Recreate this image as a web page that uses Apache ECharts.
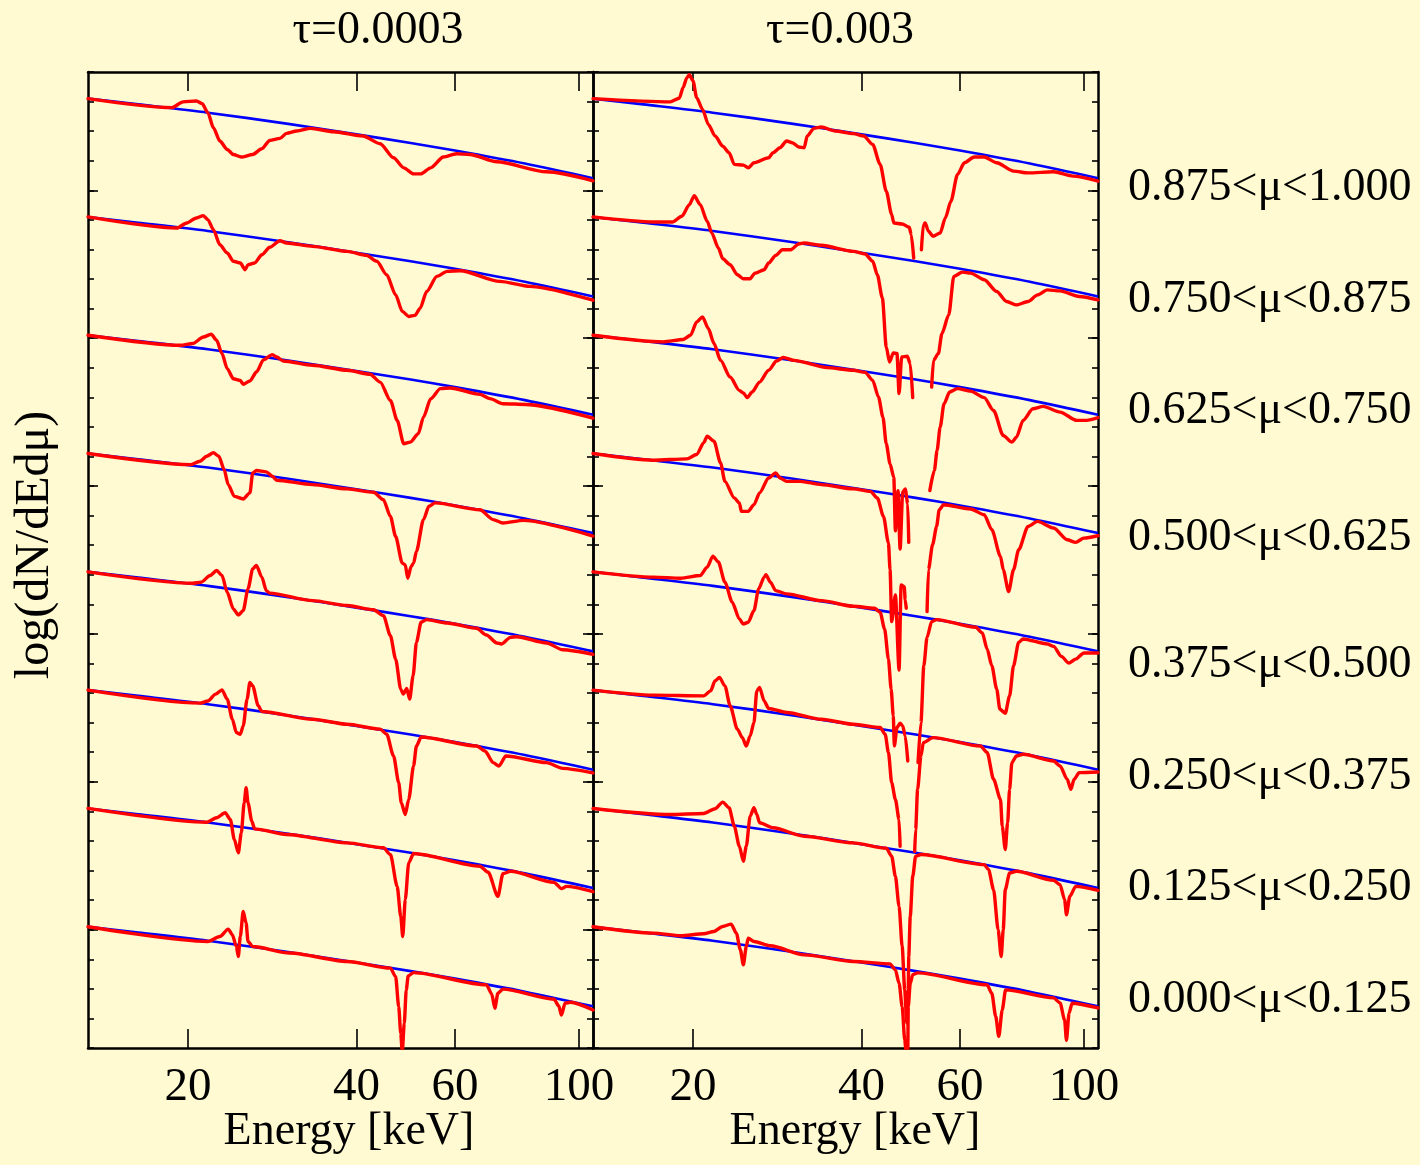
<!DOCTYPE html>
<html>
<head>
<meta charset="utf-8">
<script src="https://cdn.jsdelivr.net/npm/echarts@6/dist/echarts.min.js"></script>
<style>
html,body{margin:0;padding:0;background:#fffad2;}
#chart{width:1420px;height:1165px;}
</style>
</head>
<body>
<div id="chart"></div>
<script>
// ---------------- DATA ----------------
const energyTicks = [20, 40, 60, 100];
const panelTitles = ['τ=0.0003', 'τ=0.003'];
const muBins = ['0.875<μ<1.000', '0.750<μ<0.875', '0.625<μ<0.750', '0.500<μ<0.625',
                '0.375<μ<0.500', '0.250<μ<0.375', '0.125<μ<0.250', '0.000<μ<0.125'];
// vertical offset (log units) applied to each μ bin for display
const curveOffsets = [6.62, 5.82, 5.02, 4.22, 3.42, 2.62, 1.82, 1.02];
// continuum model (blue), log flux relative to value at 13.25 keV
const continuumE = [13.25, 16.3, 21.7, 30.2, 40, 50, 60, 80, 105.9];
const continuumLogFlux = [0, -0.039, -0.095, -0.171, -0.242, -0.300, -0.351, -0.439, -0.538];

// tau = 0.0003 spectra (red), [E keV, log flux relative]
const t1_mu1 = [[13.25,0],[18.7,-0.061],[19.6,-0.022],[20.7,-0.016],[21.2,-0.034],[21.7,-0.095],[22.2,-0.197],[22.8,-0.287],[23.5,-0.344],[24.1,-0.378],[24.9,-0.395],[26.1,-0.378],[27.1,-0.339],[28.0,-0.283],[29.2,-0.269],[30.0,-0.235],[31.3,-0.219],[33.1,-0.201],[36.4,-0.224],[41.1,-0.253],[44.1,-0.305],[46.6,-0.400],[48.6,-0.468],[50.6,-0.509],[52.1,-0.509],[54.3,-0.468],[57.2,-0.395],[60.4,-0.373],[63.8,-0.378],[71.3,-0.427],[87.5,-0.495],[105.9,-0.556]];
const t1_mu2 = [[13.25,0],[19.1,-0.075],[19.9,-0.041],[20.7,-0.007],[21.3,0.009],[21.7,-0.018],[22.2,-0.086],[22.8,-0.188],[23.5,-0.244],[24.1,-0.300],[24.8,-0.312],[25.3,-0.357],[25.6,-0.323],[26.3,-0.312],[27.1,-0.256],[28.0,-0.205],[29.2,-0.161],[30.0,-0.176],[33.4,-0.199],[38.5,-0.233],[41.7,-0.260],[43.5,-0.300],[45.3,-0.391],[47.0,-0.527],[48.3,-0.639],[49.6,-0.673],[50.9,-0.666],[52.0,-0.617],[53.4,-0.504],[55.7,-0.402],[58.1,-0.368],[61.3,-0.364],[72.2,-0.436],[81.7,-0.470],[105.9,-0.563]];
const t1_mu3 = [[13.25,0],[19.4,-0.068],[20.4,-0.056],[21.3,-0.012],[22.0,0.007],[22.5,-0.034],[23.0,-0.124],[23.5,-0.226],[24.1,-0.294],[24.8,-0.305],[25.1,-0.332],[25.8,-0.310],[26.5,-0.249],[27.3,-0.165],[28.3,-0.131],[28.8,-0.147],[29.6,-0.174],[33.4,-0.203],[38.5,-0.237],[42.3,-0.264],[44.1,-0.317],[46.0,-0.441],[47.3,-0.576],[48.6,-0.734],[49.9,-0.723],[51.6,-0.666],[52.7,-0.554],[54.3,-0.429],[56.5,-0.361],[58.8,-0.357],[66.5,-0.400],[69.3,-0.429],[73.1,-0.463],[80.5,-0.468],[105.9,-0.560]];
const t1_mu4 = [[13.25,0],[20.2,-0.075],[21.0,-0.052],[21.6,-0.018],[22.2,0.005],[22.7,-0.018],[23.2,-0.108],[23.6,-0.210],[24.2,-0.290],[25.1,-0.307],[25.8,-0.266],[26.1,-0.131],[26.5,-0.115],[27.6,-0.124],[28.3,-0.154],[28.8,-0.181],[33.4,-0.210],[38.5,-0.239],[42.9,-0.262],[44.7,-0.312],[46.0,-0.425],[47.0,-0.561],[48.3,-0.741],[48.9,-0.753],[49.4,-0.843],[50.1,-0.764],[50.6,-0.741],[51.2,-0.662],[52.7,-0.447],[53.9,-0.357],[55.3,-0.334],[66.5,-0.380],[70.2,-0.447],[73.1,-0.470],[79.6,-0.452],[105.9,-0.558]];
const t1_mu5 = [[13.25,0],[20.4,-0.077],[21.1,-0.070],[21.9,-0.025],[22.5,0.009],[23.0,-0.025],[23.5,-0.138],[24.1,-0.251],[24.6,-0.292],[25.1,-0.262],[25.6,-0.115],[26.1,0.020],[26.5,0.043],[27.1,-0.036],[27.6,-0.127],[28.0,-0.144],[33.4,-0.195],[38.5,-0.228],[42.9,-0.256],[44.7,-0.296],[46.0,-0.432],[47.0,-0.590],[48.0,-0.793],[48.5,-0.827],[49.2,-0.789],[49.8,-0.861],[50.5,-0.703],[51.2,-0.477],[52.2,-0.341],[53.4,-0.323],[58.1,-0.346],[65.6,-0.382],[68.3,-0.427],[71.3,-0.481],[72.6,-0.488],[75.4,-0.443],[77.3,-0.439],[87.5,-0.481],[93.5,-0.527],[105.9,-0.558]];
const t1_mu6 = [[13.25,0],[21.0,-0.088],[21.7,-0.073],[22.4,-0.027],[23.0,0.002],[23.5,-0.061],[24.0,-0.197],[24.4,-0.287],[24.8,-0.298],[25.1,-0.242],[25.5,-0.061],[25.8,0.052],[26.1,0.029],[26.7,-0.106],[27.1,-0.144],[33.4,-0.197],[38.5,-0.231],[44.1,-0.264],[45.3,-0.298],[46.6,-0.445],[47.6,-0.626],[48.1,-0.761],[48.9,-0.841],[49.6,-0.739],[50.6,-0.513],[51.2,-0.378],[52.2,-0.317],[65.6,-0.378],[67.9,-0.412],[70.2,-0.490],[71.9,-0.513],[74.0,-0.445],[87.5,-0.490],[93.5,-0.529],[105.9,-0.560]];
const t1_mu7 = [[13.25,0],[21.6,-0.093],[22.5,-0.063],[23.3,-0.029],[23.8,-0.075],[24.2,-0.210],[24.6,-0.300],[24.9,-0.165],[25.2,0.039],[25.4,0.140],[25.6,0.039],[26.0,-0.086],[26.3,-0.138],[30.0,-0.176],[38.5,-0.233],[44.7,-0.266],[46.0,-0.312],[47.3,-0.527],[48.0,-0.730],[48.4,-0.866],[48.9,-0.617],[49.6,-0.368],[50.6,-0.305],[66.5,-0.391],[68.8,-0.432],[71.6,-0.595],[73.1,-0.441],[75.4,-0.425],[90.2,-0.500],[93.0,-0.542],[95.0,-0.527],[105.9,-0.563]];
const t1_mu8 = [[13.25,0],[21.7,-0.100],[22.8,-0.066],[23.6,-0.016],[24.0,-0.054],[24.4,-0.134],[24.6,-0.201],[24.8,-0.066],[25.1,0.104],[25.4,0.025],[25.6,-0.100],[26.1,-0.134],[30.4,-0.178],[38.5,-0.235],[46.0,-0.280],[47.0,-0.337],[47.6,-0.540],[48.0,-0.721],[48.3,-0.848],[48.7,-0.653],[49.1,-0.427],[49.5,-0.332],[50.6,-0.310],[68.3,-0.393],[69.8,-0.454],[70.7,-0.551],[71.6,-0.450],[73.1,-0.422],[90.2,-0.490],[92.0,-0.536],[93.0,-0.597],[94.4,-0.517],[96.5,-0.511],[105.9,-0.563]];

// tau = 0.003 spectra (red); null marks where the curve is absent
const t2_mu1 = [[13.25,0],[18.2,-0.022],[18.9,0.002],[19.2,0.075],[19.5,0.142],[19.7,0.161],[20.0,0.120],[20.3,0.007],[20.8,-0.073],[21.3,-0.174],[21.9,-0.253],[22.6,-0.321],[23.2,-0.366],[23.7,-0.445],[24.6,-0.450],[25.1,-0.468],[25.7,-0.434],[27.3,-0.400],[27.8,-0.366],[28.6,-0.332],[29.4,-0.287],[30.1,-0.298],[30.9,-0.327],[31.6,-0.332],[32.0,-0.253],[32.9,-0.201],[33.9,-0.192],[35.9,-0.219],[38.7,-0.237],[40.4,-0.253],[41.9,-0.310],[43.2,-0.445],[44.3,-0.626],[45.3,-0.784],[45.7,-0.841],[47.3,-0.848],[48.7,-0.870],[49.1,-0.920],[49.6,-1.078],[50.4,null],[51.2,-1.022],[51.6,-0.852],[52.0,-0.841],[52.7,-0.897],[53.7,-0.931],[55.3,-0.909],[56.5,-0.807],[57.8,-0.694],[59.4,-0.513],[61.1,-0.434],[63.6,-0.395],[66.3,-0.395],[69.8,-0.434],[74.8,-0.490],[79.4,-0.502],[88.2,-0.495],[95.6,-0.524],[105.9,-0.558]];
const t2_mu2 = [[13.25,0],[17.0,-0.034],[18.4,-0.034],[19.1,0.005],[19.7,0.083],[20.1,0.144],[20.6,0.083],[21.2,-0.029],[21.6,-0.108],[22.2,-0.210],[22.6,-0.283],[23.3,-0.323],[24.0,-0.391],[24.6,-0.418],[25.3,-0.418],[25.8,-0.380],[26.8,-0.357],[27.3,-0.312],[28.1,-0.260],[28.9,-0.222],[29.9,-0.222],[30.9,-0.183],[31.6,-0.176],[33.9,-0.192],[38.7,-0.233],[40.6,-0.251],[41.9,-0.300],[42.7,-0.391],[43.6,-0.549],[44.3,-0.879],[44.9,-0.981],[45.6,-0.920],[46.3,-0.924],[46.7,-1.195],[47.2,-0.947],[48.3,-0.942],[48.9,-0.992],[49.4,-1.222],[51.0,null],[53.4,-1.151],[53.8,-0.970],[54.9,-0.924],[55.7,-0.789],[57.3,-0.662],[58.5,-0.402],[60.6,-0.373],[62.7,-0.380],[66.3,-0.425],[69.8,-0.504],[72.7,-0.572],[75.7,-0.595],[79.4,-0.572],[82.6,-0.527],[86.0,-0.493],[90.6,-0.500],[98.0,-0.538],[105.9,-0.561]];
const t2_mu3 = [[13.25,0],[17.7,-0.045],[19.2,-0.029],[19.8,0],[20.3,0.090],[20.8,0.124],[21.3,0.045],[21.8,-0.056],[22.4,-0.170],[23.3,-0.283],[24.2,-0.373],[24.6,-0.391],[25.0,-0.422],[25.5,-0.384],[26.3,-0.317],[27.3,-0.237],[28.2,-0.174],[29.0,-0.151],[30.3,-0.170],[34.7,-0.219],[38.7,-0.237],[40.6,-0.251],[41.9,-0.305],[42.9,-0.418],[43.7,-0.554],[44.3,-0.734],[45.0,-0.870],[45.7,-0.961],[46.0,-1.322],[46.5,-1.051],[46.9,-1.446],[47.4,-1.062],[47.9,-1.039],[48.4,-1.141],[48.6,-1.401],[50.5,null],[53.0,-1.051],[54.0,-0.915],[54.6,-0.780],[55.3,-0.622],[56.2,-0.463],[57.5,-0.384],[59.4,-0.361],[62.7,-0.378],[66.3,-0.422],[68.9,-0.509],[71.7,-0.678],[74.3,-0.723],[75.7,-0.690],[77.8,-0.576],[81.0,-0.497],[84.5,-0.481],[90.6,-0.520],[97.0,-0.576],[101.0,-0.576],[105.9,-0.558]];
const t2_mu4 = [[13.25,0],[17.0,-0.045],[19.5,-0.036],[20.3,-0.007],[20.9,0.073],[21.2,0.117],[21.8,0.083],[22.4,-0.063],[22.8,-0.188],[23.7,-0.300],[24.2,-0.334],[24.4,-0.391],[25.1,-0.391],[25.7,-0.346],[26.3,-0.266],[27.3,-0.165],[28.1,-0.131],[28.6,-0.165],[29.4,-0.188],[31.1,-0.188],[33.9,-0.210],[38.7,-0.239],[41.5,-0.256],[42.7,-0.300],[43.8,-0.425],[44.7,-0.605],[45.0,-0.786],[45.3,-1.137],[46.0,-0.956],[46.7,-1.464],[47.1,-0.888],[47.7,-0.900],[47.9,-0.990],[48.1,-1.046],[50.0,null],[52.4,-1.069],[52.7,-0.786],[53.6,-0.617],[54.5,-0.493],[55.1,-0.380],[56.1,-0.346],[62.7,-0.375],[66.3,-0.414],[68.4,-0.515],[70.9,-0.696],[71.7,-0.786],[73.3,-0.934],[74.8,-0.786],[76.4,-0.651],[79.4,-0.493],[82.6,-0.459],[88.2,-0.504],[93.3,-0.583],[96.6,-0.601],[99.9,-0.572],[105.9,-0.556]];
const t2_mu5 = [[13.25,0],[17.0,-0.036],[19.0,-0.043],[20.6,-0.025],[21.2,0.032],[21.7,0.106],[22.2,0.066],[22.8,-0.070],[23.5,-0.205],[24.2,-0.319],[24.6,-0.353],[25.1,-0.341],[25.7,-0.262],[26.2,-0.115],[26.8,-0.036],[27.0,-0.020],[27.5,-0.070],[28.1,-0.127],[29.4,-0.149],[33.9,-0.195],[38.7,-0.233],[42.2,-0.246],[43.2,-0.273],[44.0,-0.386],[44.7,-0.590],[45.2,-0.793],[45.6,-0.974],[45.8,-1.178],[46.3,-1.053],[46.9,-1.024],[47.4,-1.042],[47.9,-1.110],[48.4,-1.279],[49.5,null],[50.5,-1.290],[51.1,-1.019],[51.7,-0.635],[52.4,-0.443],[53.4,-0.337],[54.5,-0.323],[64.0,-0.375],[65.8,-0.414],[67.1,-0.522],[68.4,-0.635],[69.8,-0.793],[70.7,-0.929],[72.3,-0.956],[73.6,-0.839],[74.8,-0.635],[76.4,-0.477],[77.8,-0.454],[86.0,-0.488],[88.2,-0.504],[91.1,-0.572],[93.9,-0.617],[96.6,-0.590],[99.9,-0.549],[105.9,-0.549]];
const t2_mu6 = [[13.25,0],[17.0,-0.034],[20.9,-0.039],[21.5,-0.005],[21.9,0.063],[22.3,0.086],[22.8,0.029],[23.3,-0.106],[24.0,-0.264],[24.5,-0.321],[24.9,-0.378],[25.3,-0.310],[25.7,-0.219],[26.0,-0.005],[26.3,0.018],[26.8,-0.073],[27.3,-0.124],[29.4,-0.151],[33.9,-0.197],[38.7,-0.231],[43.2,-0.253],[44.1,-0.298],[44.7,-0.422],[45.3,-0.626],[46.0,-0.739],[46.7,-0.875],[46.9,-1.056],[48.5,null],[49.8,-1.090],[50.0,-0.942],[50.4,-0.671],[51.1,-0.445],[51.6,-0.355],[53.7,-0.321],[65.3,-0.378],[67.1,-0.422],[68.9,-0.603],[70.9,-0.739],[71.4,-0.920],[72.3,-1.078],[73.0,-0.897],[73.6,-0.671],[74.3,-0.490],[75.7,-0.445],[77.8,-0.434],[88.2,-0.479],[90.6,-0.513],[93.3,-0.603],[94.7,-0.671],[96.0,-0.603],[98.0,-0.558],[105.9,-0.554]];
const t2_mu7 = [[13.25,0],[18.2,-0.041],[20.9,-0.034],[21.9,-0.002],[22.6,0.043],[23.2,0.005],[23.7,-0.120],[24.2,-0.256],[24.6,-0.357],[24.9,-0.256],[25.3,-0.052],[25.7,0.005],[26.0,-0.041],[26.3,-0.097],[27.8,-0.131],[31.6,-0.188],[38.7,-0.233],[44.3,-0.269],[45.3,-0.323],[46.0,-0.459],[46.7,-0.662],[47.3,-0.934],[47.8,-1.227],[48.2,-1.451],[48.5,-1.227],[48.6,-1.001],[48.9,-0.730],[49.4,-0.459],[50.0,-0.323],[51.1,-0.312],[66.3,-0.380],[67.5,-0.414],[68.9,-0.549],[70.2,-0.820],[71.1,-1.001],[71.7,-0.820],[72.3,-0.549],[73.6,-0.436],[75.7,-0.425],[88.2,-0.486],[90.6,-0.515],[92.3,-0.617],[93.0,-0.719],[94.3,-0.595],[96.6,-0.527],[105.9,-0.554]];
const t2_mu8 = [[13.25,0],[17.0,-0.043],[19.0,-0.061],[20.9,-0.047],[21.8,-0.032],[22.6,0.002],[23.4,0.018],[23.9,-0.043],[24.3,-0.156],[24.6,-0.258],[24.9,-0.134],[25.1,-0.077],[25.7,-0.100],[27.5,-0.129],[31.6,-0.190],[38.7,-0.235],[45.0,-0.251],[46.0,-0.292],[46.7,-0.382],[47.3,-0.540],[47.8,-0.766],[48.1,-0.854],[48.4,-0.854],[48.5,-0.540],[48.9,-0.382],[49.4,-0.325],[50.4,-0.312],[67.1,-0.393],[68.4,-0.450],[69.5,-0.605],[70.4,-0.741],[71.4,-0.563],[72.4,-0.427],[88.2,-0.481],[90.6,-0.515],[92.3,-0.631],[93.0,-0.768],[94.0,-0.585],[95.2,-0.517],[105.9,-0.549]];

const yMinorTicks = [];
for (let k = 1; k <= 34; k++) yMinorTicks.push(+(k * 0.2).toFixed(1));
const yMajorTicks = [1, 2, 3, 4, 5, 6];

// ---------------- CHART ----------------
const FONT = '"Liberation Serif", "Times New Roman", serif';
const BLACK = '#000000';
const panels = [
  {curves: [t1_mu1, t1_mu2, t1_mu3, t1_mu4, t1_mu5, t1_mu6, t1_mu7, t1_mu8]},
  {curves: [t2_mu1, t2_mu2, t2_mu3, t2_mu4, t2_mu5, t2_mu6, t2_mu7, t2_mu8]}
];

const grids = [
  {left: 88, top: 72, width: 505, height: 976, show: false, containLabel: false, outerBoundsMode: 'none'},
  {left: 593, top: 72, width: 505, height: 976, show: false, containLabel: false, outerBoundsMode: 'none'}
];

const xAxes = [], yAxes = [], series = [];
panels.forEach((p, g) => {
  ['bottom', 'top'].forEach(pos => {
    xAxes.push({
      type: 'log', logBase: 10, gridIndex: g, position: pos,
      min: 13.25, max: 105.9,
      axisLine: {show: true, onZero: false, lineStyle: {color: BLACK, width: 2.5}},
      axisTick: {show: true, inside: true, length: 19, customValues: energyTicks,
                 lineStyle: {color: BLACK, width: 1.6}},
      axisLabel: {show: pos === 'bottom', customValues: energyTicks, margin: 16,
                  fontFamily: FONT, fontSize: 47, color: BLACK},
      minorTick: {show: false}, splitLine: {show: false}, minorSplitLine: {show: false}
    });
  });
  ['left', 'right'].forEach(pos => {
    yAxes.push({
      type: 'value', gridIndex: g, position: pos, min: 0.2, max: 6.8,
      axisLine: {show: true, onZero: false, lineStyle: {color: BLACK, width: 2.5}},
      axisTick: {show: true, inside: true, length: 6, customValues: yMinorTicks,
                 lineStyle: {color: BLACK, width: 1.6}},
      axisLabel: {show: false}, splitLine: {show: false}
    });
    yAxes.push({
      type: 'value', gridIndex: g, position: pos, min: 0.2, max: 6.8,
      axisLine: {show: false, onZero: false},
      axisTick: {show: true, inside: true, length: 10, customValues: yMajorTicks,
                 lineStyle: {color: BLACK, width: 1.6}},
      axisLabel: {show: false}, splitLine: {show: false}
    });
  });
  const xi = g * 2, yi = g * 4;
  p.curves.forEach((curve, i) => {
    const off = curveOffsets[i];
    series.push({
      type: 'line', xAxisIndex: xi, yAxisIndex: yi, silent: true,
      data: continuumE.map((e, k) => [e, off + continuumLogFlux[k]]),
      smooth: 0.3, symbol: 'none', showSymbol: false, clip: true, z: 2,
      lineStyle: {color: '#0000ff', width: 2.6}
    });
  });
  p.curves.forEach((curve, i) => {
    const off = curveOffsets[i];
    series.push({
      type: 'line', xAxisIndex: xi, yAxisIndex: yi, silent: true,
      data: curve.map(([e, v]) => [e, v === null ? '-' : off + v]),
      connectNulls: false, symbol: 'none', showSymbol: false, clip: true, z: 3,
      smooth: 0.25, smoothMonotone: 'x',
      lineStyle: {color: '#ff0000', width: 3.4, join: 'round', cap: 'round'}
    });
  });
});

const txt = (x, y, text, size, extra) => Object.assign({
  type: 'text', x: x, y: y, silent: true,
  style: {text: text, font: size + 'px ' + FONT, fill: BLACK, align: 'center', verticalAlign: 'middle'}
}, extra || {});

const graphics = [
  txt(378, 31, panelTitles[0], 46),
  txt(840, 31, panelTitles[1], 46),
  txt(349, 1132, 'Energy [keV]', 46),
  txt(855, 1132, 'Energy [keV]', 46),
  txt(35, 545, 'log(dN/dEdμ)', 48, {rotation: Math.PI / 2})
];
const muLabelY = [188, 300, 411, 538, 665, 777, 888, 1000];
muBins.forEach((m, i) => {
  const t = txt(1128, muLabelY[i], m, 46);
  t.style.align = 'left';
  graphics.push(t);
});

const chart = echarts.init(document.getElementById('chart'), null, {renderer: 'canvas'});
chart.setOption({
  backgroundColor: '#fffad2',
  animation: false,
  grid: grids,
  xAxis: xAxes,
  yAxis: yAxes,
  series: series,
  graphic: graphics
});
</script>
</body>
</html>
